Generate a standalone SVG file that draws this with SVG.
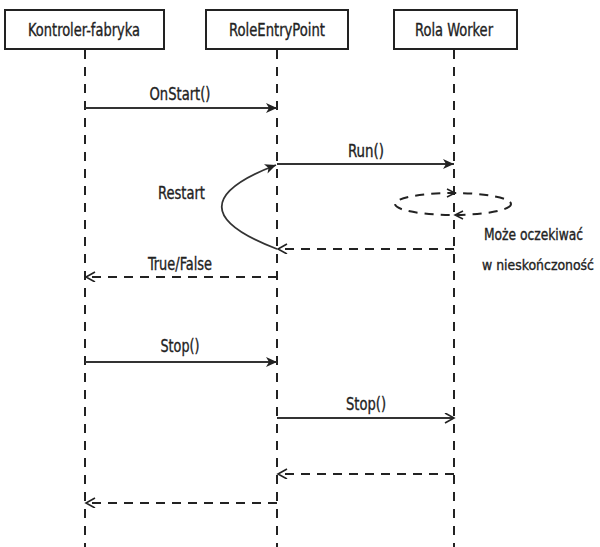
<svg xmlns="http://www.w3.org/2000/svg" width="600" height="547" viewBox="0 0 600 547">
  <style>
    .box { fill: #ffffff; stroke: #222; stroke-width: 2; }
    .t { font-family: "Liberation Sans Narrow", "DejaVu Sans Condensed", "Roboto Condensed", "Liberation Sans", sans-serif; font-size: 18px; fill: #222; stroke: #222; stroke-width: 0.35; }
    .s { font-size: 16px; }
    .xs { font-size: 14.5px; }
    .life { stroke: #222; stroke-width: 2; stroke-dasharray: 9 8; fill: none; }
    .msg { stroke: #333; stroke-width: 1.8; fill: none; }
    .ret { stroke: #222; stroke-width: 2; stroke-dasharray: 9 7; fill: none; }
  </style>
  <defs>
    <marker id="filled" markerUnits="userSpaceOnUse" markerWidth="12" markerHeight="10" refX="11" refY="5" orient="auto">
      <path d="M0,0 L11,5 L0,10 L3,5 z" fill="#222"/>
    </marker>
    <marker id="open" markerUnits="userSpaceOnUse" markerWidth="12" markerHeight="12" refX="10" refY="5" orient="auto">
      <path d="M1,0 L10,5 L1,10" fill="none" stroke="#222" stroke-width="1.6"/>
    </marker>
  </defs>
  <rect width="600" height="547" fill="#ffffff"/>

  <g id="node-kontroler">
    <rect class="box" x="5" y="10" width="159" height="39"/>
    <text class="t" x="84" y="36" text-anchor="middle" textLength="112" lengthAdjust="spacingAndGlyphs">Kontroler-fabryka</text>
  </g>
  <g id="node-roleentrypoint">
    <rect class="box" x="206" y="10" width="142" height="39"/>
    <text class="t" x="277" y="36" text-anchor="middle" textLength="96" lengthAdjust="spacingAndGlyphs">RoleEntryPoint</text>
  </g>
  <g id="node-rolaworker">
    <rect class="box" x="394" y="10" width="123" height="39"/>
    <text class="t" x="454" y="36" text-anchor="middle" textLength="78" lengthAdjust="spacingAndGlyphs">Rola Worker</text>
  </g>

  <g id="lifelines">
    <line class="life" x1="85" y1="50" x2="85" y2="547"/>
    <line class="life" x1="277" y1="50" x2="277" y2="547"/>
    <line class="life" x1="454" y1="50" x2="454" y2="547"/>
  </g>

  <g id="connectors">
    <line class="msg" x1="85" y1="108" x2="277" y2="108" marker-end="url(#filled)"/>
    <line class="msg" x1="277" y1="164" x2="454" y2="164" marker-end="url(#filled)"/>
    <path class="msg" d="M277,249 Q167,207 276,165" marker-end="url(#filled)"/>
    <ellipse class="ret" cx="453" cy="204" rx="58" ry="11"/>
    <path d="M447,189 L455,193 L447,197" fill="none" stroke="#222" stroke-width="1.5"/>
    <path d="M463,211 L455,215 L463,219" fill="none" stroke="#222" stroke-width="1.5"/>
    <line class="ret" x1="454" y1="249" x2="278" y2="249" marker-end="url(#open)"/>
    <line class="ret" x1="277" y1="277" x2="86" y2="277" marker-end="url(#open)"/>
    <line class="msg" x1="85" y1="362" x2="277" y2="362" marker-end="url(#filled)"/>
    <line class="msg" x1="277" y1="418" x2="454" y2="418" marker-end="url(#open)"/>
    <line class="ret" x1="454" y1="474" x2="278" y2="474" marker-end="url(#open)"/>
    <line class="ret" x1="277" y1="503" x2="86" y2="503" marker-end="url(#open)"/>
  </g>

  <g id="labels">
    <text class="t" x="180" y="100" text-anchor="middle" textLength="61" lengthAdjust="spacingAndGlyphs">OnStart()</text>
    <text class="t" x="366" y="157" text-anchor="middle" textLength="36" lengthAdjust="spacingAndGlyphs">Run()</text>
    <text class="t" x="158" y="199" textLength="47" lengthAdjust="spacingAndGlyphs">Restart</text>
    <text class="t s" x="484" y="240" textLength="99" lengthAdjust="spacingAndGlyphs">Może oczekiwać</text>
    <text class="t xs" x="482" y="270" textLength="112" lengthAdjust="spacingAndGlyphs">w nieskończoność</text>
    <text class="t" x="180" y="270" text-anchor="middle" textLength="64" lengthAdjust="spacingAndGlyphs">True/False</text>
    <text class="t" x="180" y="352" text-anchor="middle" textLength="39" lengthAdjust="spacingAndGlyphs">Stop()</text>
    <text class="t" x="366" y="410" text-anchor="middle" textLength="40" lengthAdjust="spacingAndGlyphs">Stop()</text>
  </g>
</svg>
